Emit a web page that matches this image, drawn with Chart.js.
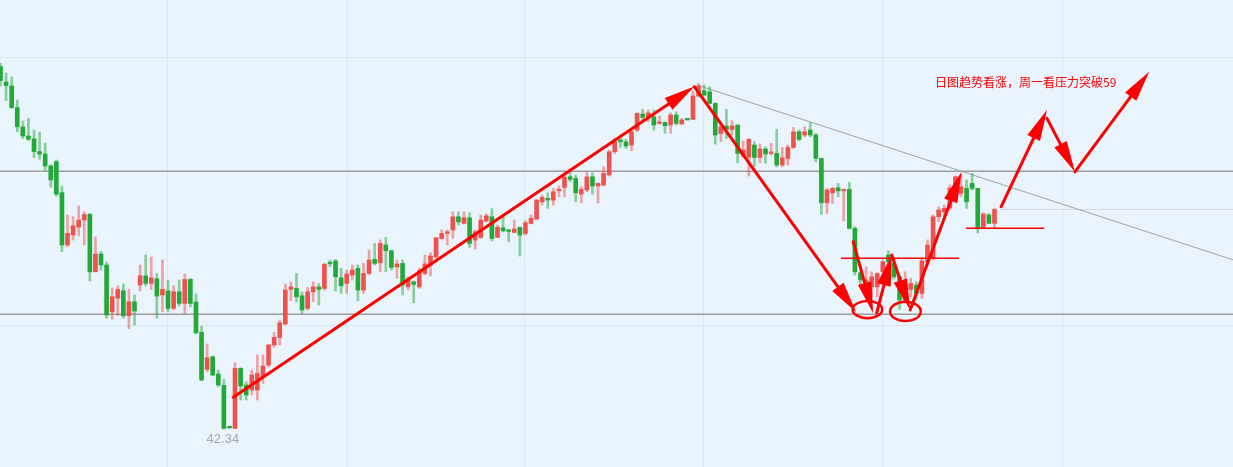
<!DOCTYPE html>
<html>
<head>
<meta charset="utf-8">
<script src="https://cdn.jsdelivr.net/npm/chart.js@4.4.1/dist/chart.umd.min.js"></script>
<style>
  html, body { margin:0; padding:0; background:#eaf4fd; overflow:hidden; }
  #wrap { width:1233px; height:467px; position:relative; }
</style>
</head>
<body>
<div id="wrap"><canvas id="c"></canvas></div>
<script>
// daily candles (price units)
const opens = [
  60.46,59.69,59.49,58.41,57.44,56.99,56.85,56.21,56.09,55.50,
  55.71,54.16,51.54,52.04,52.44,52.79,53.07,50.20,51.09,50.54,
  48.20,48.88,49.25,48.00,48.70,49.54,50.00,49.62,49.85,49.04,
  49.25,48.37,49.20,48.62,49.82,48.69,47.17,45.32,45.95,45.09,
  44.52,42.42,42.37,45.37,44.54,44.29,44.29,44.95,45.54,46.54,
  46.92,47.59,49.32,49.37,49.00,48.37,49.20,49.45,49.37,50.64,
  50.74,49.90,49.62,50.04,50.37,49.29,50.12,50.82,50.65,51.54,
  51.25,50.45,50.62,49.45,49.70,49.45,50.12,50.54,50.95,51.87,
  52.12,52.29,52.95,52.62,52.90,51.79,51.92,52.74,52.95,51.92,
  52.40,52.29,52.17,52.42,52.12,52.62,52.84,53.70,53.87,53.79,
  54.25,54.42,54.95,54.87,54.09,54.29,54.95,54.49,54.54,55.04,
  56.20,56.79,56.70,56.54,57.29,58.09,57.95,57.95,57.62,57.67,
  57.54,58.04,57.59,57.84,57.82,58.99,59.25,59.20,58.62,57.12,
  57.49,57.32,57.54,55.99,55.92,56.54,55.92,56.34,56.12,56.12,
  55.54,55.87,56.42,57.20,57.04,57.29,57.04,55.87,53.65,54.15,
  54.40,54.25,54.32,52.37,50.15,49.19,49.45,49.45,50.20,51.04,
  50.62,49.95,48.79,49.32,49.54,49.12,50.69,50.87,52.95,53.20,
  53.39,54.29,54.12,54.37,54.62,54.37,52.42,53.04,52.62
];
const highs = [
  60.64,60.13,59.93,58.79,57.74,57.88,57.29,57.18,56.63,55.54,
  55.79,54.49,53.04,52.96,53.49,53.19,53.12,51.95,51.22,50.69,
  49.40,49.49,49.59,49.34,49.04,50.54,51.04,50.94,50.12,50.79,
  49.79,49.50,49.79,50.09,49.87,49.09,47.49,46.59,45.99,45.29,
  44.82,42.45,45.65,45.40,44.70,45.29,46.04,46.04,46.57,47.17,
  47.79,49.59,49.70,50.12,49.20,49.42,49.70,49.62,50.62,50.79,
  50.82,50.37,50.29,50.54,50.54,50.62,51.29,51.62,51.79,51.92,
  51.29,50.79,50.79,49.95,49.74,50.37,51.04,51.15,51.92,52.29,
  52.29,53.20,53.20,53.20,53.15,52.29,53.04,53.09,53.37,52.54,
  52.95,52.32,52.79,52.45,52.75,53.04,53.82,54.04,54.15,54.37,
  54.49,55.12,55.20,55.04,54.45,55.20,55.15,54.65,55.45,56.29,
  56.87,57.04,56.82,57.32,58.15,58.32,58.29,58.29,57.99,57.70,
  58.15,58.20,57.87,57.86,59.25,59.62,59.54,59.45,58.65,57.54,
  58.32,57.74,57.54,56.74,56.87,56.70,56.59,56.45,56.62,57.32,
  56.42,56.54,57.42,57.29,57.45,57.65,57.12,55.87,54.37,54.42,
  54.62,54.32,54.67,52.45,50.20,50.45,50.20,50.15,50.79,51.25,
  50.89,50.04,50.20,49.87,49.70,50.87,51.79,53.04,53.45,53.54,
  54.54,54.99,55.04,54.79,55.12,54.37,53.15,53.12,53.37
];
const lows = [
  59.49,58.76,58.38,57.20,56.86,56.76,55.91,55.83,55.26,54.43,
  53.99,51.21,51.46,51.79,51.99,51.54,49.75,50.20,50.29,47.88,
  47.83,48.00,47.88,47.36,47.54,49.25,49.50,49.32,47.88,48.20,
  48.20,48.29,48.49,48.12,48.45,47.09,44.75,45.20,45.00,44.45,
  42.34,42.37,42.37,43.79,43.79,44.04,43.79,44.62,45.45,46.42,
  46.54,47.54,48.75,48.70,48.12,48.29,48.70,48.54,49.29,50.45,
  49.25,49.12,49.12,49.79,48.75,49.12,50.04,50.54,50.20,50.20,
  50.29,49.87,49.04,49.29,48.65,49.37,50.04,49.99,50.87,51.82,
  51.54,51.87,52.54,52.59,51.42,51.34,51.87,52.70,51.75,51.92,
  52.20,51.70,52.15,50.99,52.04,52.59,52.79,53.54,53.37,53.54,
  53.95,53.95,54.70,53.70,53.65,54.20,54.09,53.65,54.49,54.99,
  56.12,56.42,56.37,56.25,57.20,57.70,57.70,57.29,57.57,57.12,
  57.12,57.54,57.57,57.78,57.82,58.95,58.99,58.62,56.59,56.70,
  56.87,57.04,55.65,55.92,54.99,55.45,55.65,55.62,56.04,55.45,
  55.45,55.54,56.37,56.75,56.95,56.95,55.70,53.07,53.12,53.62,
  53.95,52.75,52.34,50.04,49.45,48.95,48.95,48.95,50.12,50.54,
  49.84,48.32,48.70,48.95,48.79,48.87,50.54,50.79,52.70,52.95,
  53.29,54.12,53.95,53.37,54.29,52.15,52.37,52.62,52.37
];
const closes = [
  59.76,59.51,58.41,57.45,56.99,56.83,56.21,56.09,55.49,54.79,
  54.08,51.54,52.12,52.50,52.79,53.06,50.20,51.09,50.54,48.04,
  48.95,49.32,48.00,48.70,48.24,50.00,49.62,49.90,48.99,49.32,
  48.37,49.20,48.62,49.82,48.62,47.15,44.79,45.90,45.04,44.54,
  42.37,42.40,45.37,44.49,44.04,45.04,45.12,45.49,46.54,46.92,
  47.65,49.29,49.45,48.95,48.29,49.20,49.45,49.32,50.57,50.60,
  49.95,49.50,50.09,50.29,49.29,50.12,50.79,50.62,51.62,51.25,
  50.42,50.59,49.54,49.87,49.57,50.25,50.59,50.99,51.90,52.12,
  52.20,52.95,52.70,52.90,51.62,52.20,52.79,53.00,51.87,52.42,
  52.25,52.22,52.34,52.04,52.65,52.87,53.79,53.92,53.79,54.20,
  54.29,54.92,54.82,54.15,54.32,54.95,54.49,54.62,55.12,56.20,
  56.70,56.70,56.49,57.20,58.12,57.92,58.15,57.54,57.67,57.50,
  58.04,57.62,57.79,57.80,58.99,59.49,59.04,58.62,57.04,57.45,
  57.32,57.49,56.12,56.29,56.82,55.92,56.34,56.09,56.15,55.54,
  55.90,56.42,57.20,56.82,57.20,57.04,55.87,53.65,54.29,54.37,
  54.25,54.32,52.37,50.20,49.79,49.79,49.95,50.12,50.70,50.69,
  49.95,48.79,49.54,49.62,49.12,50.75,51.54,52.95,53.29,53.37,
  54.39,54.95,54.45,53.70,54.37,52.37,53.09,52.62,53.32
];

// faint grid positions (bar index / price)
const gridX = [29.9, 62.0, 93.8, 125.8, 157.9, 190.0];
const gridY = [60.92, 47.54];

// gray support/resistance levels and the falling trend line
const levels = [55.225, 48.075];
const trendLine = [124.7, 59.54, 220.7, 50.80];

// hand-drawn red marks: [fromIdx, fromPrice, toIdx, toPrice]
const arrows = [
  [41.69, 43.93, 124.24, 59.46],
  [124.24, 59.46, 153.2, 48.19],
  [152.7, 51.71, 156.25, 48.14],
  [156.9, 48.14, 159.6, 51.04],
  [159.6, 51.04, 162.9, 48.29],
  [162.9, 48.29, 172.1, 55.20],
  [179.2, 53.46, 187.4, 58.29],
  [187.4, 57.87, 192.4, 55.20],
  [192.4, 55.20, 205.7, 60.20]
];
// ellipses as bounds [idxLeft, idxRight, priceTop, priceBottom]
const circles = [
  [152.6, 157.9, 48.74, 47.88],
  [159.3, 164.8, 48.70, 47.74]
];
// short red levels [idxFrom, idxTo, price]
const redLevels = [
  [150.5, 171.65, 50.875],
  [172.9, 186.9, 52.375]
];
const noteText = "日图趋势看涨，周一看压力突破59";
const notePos = [167.35, 59.665];

const UP = "#ef524e", DOWN = "#22a93a";
const UP_W = "rgba(239,82,78,0.5)", DOWN_W = "rgba(34,169,58,0.5)";

const idx = opens.map((_, i) => i);
const isUp = idx.map(i => closes[i] >= opens[i]);

const wickData = idx.map(i => ({ x: i, y: [lows[i], highs[i]] }));
const bodyData = idx.map(i => ({ x: i, y: [opens[i], closes[i]] }));

function line(ctx, x1, y1, x2, y2){
  ctx.beginPath(); ctx.moveTo(x1, y1); ctx.lineTo(x2, y2); ctx.stroke();
}

const backPlugin = {
  id: "back",
  beforeDatasetsDraw(chart){
    const {ctx, chartArea:a, scales:{x, y}} = chart;
    ctx.save();
    ctx.strokeStyle = "#dce7f1";
    ctx.lineWidth = 1;
    gridX.forEach(v => { const px = Math.round(x.getPixelForValue(v)) + 0.5; line(ctx, px, a.top, px, a.bottom); });
    gridY.forEach(v => { const py = Math.round(y.getPixelForValue(v)) + 0.5; line(ctx, a.left, py, a.right, py); });

    // last price line
    const last = closes[closes.length - 1];
    ctx.strokeStyle = "#d2dbe4";
    const lp = Math.round(y.getPixelForValue(last)) + 0.5;
    line(ctx, x.getPixelForValue(idx.length + 0.1), lp, a.right, lp);

    ctx.strokeStyle = "#9c9c9c";
    ctx.lineWidth = 1.5;
    levels.forEach(v => { const py = y.getPixelForValue(v); line(ctx, a.left, py, a.right, py); });

    ctx.strokeStyle = "#a9a9a9";
    ctx.lineWidth = 1.2;
    line(ctx, x.getPixelForValue(trendLine[0]), y.getPixelForValue(trendLine[1]),
              x.getPixelForValue(trendLine[2]), y.getPixelForValue(trendLine[3]));
    ctx.restore();
  }
};

const markPlugin = {
  id: "marks",
  afterDatasetsDraw(chart){
    const {ctx, scales:{x, y}} = chart;
    ctx.save();
    ctx.strokeStyle = "#ff0000";
    ctx.fillStyle = "#ff0000";

    // low label
    let lo = 0;
    lows.forEach((v, i) => { if (v < lows[lo]) lo = i; });
    ctx.font = "13px 'Liberation Sans', Arial, sans-serif";
    ctx.fillStyle = "#a6a6a6";
    ctx.textAlign = "center";
    ctx.textBaseline = "middle";
    ctx.fillText(lows[lo].toFixed(2), x.getPixelForValue(lo) - 1, y.getPixelForValue(lows[lo]) + 10);

    ctx.fillStyle = "#ff0000";
    ctx.lineWidth = 1.5;
    redLevels.forEach(r => {
      const py = y.getPixelForValue(r[2]);
      line(ctx, x.getPixelForValue(r[0]), py, x.getPixelForValue(r[1]), py);
    });

    ctx.lineWidth = 2.5;
    circles.forEach(c => {
      const x1 = x.getPixelForValue(c[0]), x2 = x.getPixelForValue(c[1]);
      const y1 = y.getPixelForValue(c[2]), y2 = y.getPixelForValue(c[3]);
      ctx.beginPath();
      ctx.ellipse((x1 + x2) / 2, (y1 + y2) / 2, (x2 - x1) / 2, (y2 - y1) / 2, 0, 0, Math.PI * 2);
      ctx.stroke();
    });

    const headLen = 31, headHalf = 7;
    ctx.lineWidth = 3;
    ctx.lineCap = "round";
    arrows.forEach(a => {
      const x1 = x.getPixelForValue(a[0]), y1 = y.getPixelForValue(a[1]);
      const x2 = x.getPixelForValue(a[2]), y2 = y.getPixelForValue(a[3]);
      const dx = x2 - x1, dy = y2 - y1, len = Math.hypot(dx, dy);
      const ux = dx / len, uy = dy / len;
      const bx = x2 - ux * headLen, by = y2 - uy * headLen;
      line(ctx, x1, y1, bx, by);
      ctx.beginPath();
      ctx.moveTo(x2, y2);
      ctx.lineTo(bx - uy * headHalf, by + ux * headHalf);
      ctx.lineTo(bx + uy * headHalf, by - ux * headHalf);
      ctx.closePath();
      ctx.fill();
    });

    ctx.font = "12px 'Noto Sans CJK SC', sans-serif";
    ctx.textAlign = "left";
    ctx.textBaseline = "middle";
    ctx.fillText(noteText, x.getPixelForValue(notePos[0]), y.getPixelForValue(notePos[1]));
    ctx.restore();
  }
};

new Chart(document.getElementById("c"), {
  type: "bar",
  data: {
    datasets: [
      { label: "wick", data: wickData, grouped: false, barThickness: 2,
        backgroundColor: idx.map(i => isUp[i] ? UP_W : DOWN_W) },
      { label: "body", data: bodyData, grouped: false, barThickness: 4, minBarLength: 1.5,
        backgroundColor: idx.map(i => isUp[i] ? UP : DOWN) }
    ]
  },
  options: {
    responsive: true,
    maintainAspectRatio: false,
    animation: false,
    layout: { padding: 0 },
    plugins: { legend: { display: false }, tooltip: { enabled: false } },
    scales: {
      x: { type: "linear", display: false, offset: false, min: -0.09, max: 220.71 },
      y: { display: false, min: 40.44, max: 63.79 }
    }
  },
  plugins: [backPlugin, markPlugin]
});
</script>
</body>
</html>
